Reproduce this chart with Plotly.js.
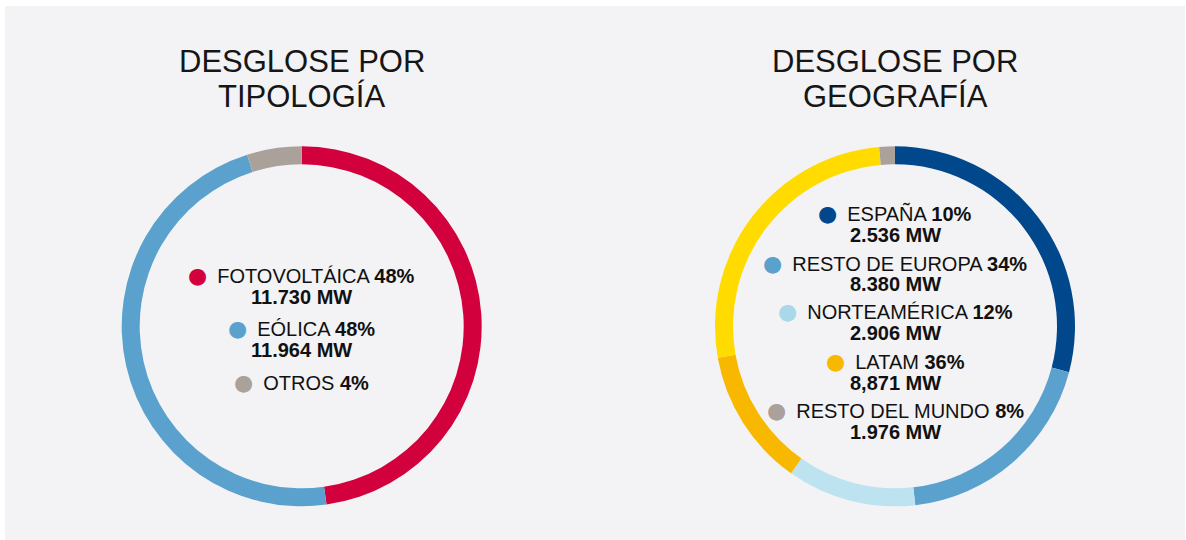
<!DOCTYPE html>
<html>
<head>
<meta charset="utf-8">
<script src="https://cdn.plot.ly/plotly-3.0.1.min.js"></script>
<style>html,body{margin:0;padding:0;background:#fff;}#chart{width:1186px;height:540px;}</style>
</head>
<body>
<div id="chart"></div>
<script>
// ---- Data ----
const tipologiaLabels = ['FOTOVOLTÁICA', 'EÓLICA', 'OTROS'];
const tipologiaPct = [48, 48, 4];
const tipologiaMW = ['11.730 MW', '11.964 MW', ''];
const tipologiaArc = [47.8, 47.3, 4.9];           // share of the ring as drawn
const tipologiaColors = ['#d2003c', '#5aa2cd', '#aba19b'];

const geoLabels = ['ESPAÑA', 'RESTO DE EUROPA', 'NORTEAMÉRICA', 'LATAM', 'RESTO DEL MUNDO'];
const geoPct = [10, 34, 12, 36, 8];
const geoMW = ['2.536 MW', '8.380 MW', '2.906 MW', '8,871 MW', '1.976 MW'];
const geoDotColors = ['#00478c', '#5aa2cd', '#a9d8ea', '#f8b800', '#aba19b'];

const geoRingLabels = ['ESPAÑA', 'RESTO DE EUROPA', 'NORTEAMÉRICA', 'LATAM', 'LATAM (2)', 'RESTO DEL MUNDO'];
const geoRingArc = [29.1, 19.1, 11.6, 12.4, 26.4, 1.4];   // share of the ring as drawn
const geoRingColors = ['#00478c', '#5aa2cd', '#bde3f1', '#f8b800', '#ffdb00', '#aba19b'];

const titles = [['DESGLOSE POR', 'TIPOLOGÍA'], ['DESGLOSE POR', 'GEOGRAFÍA']];

// ---- Layout helpers ----
const W = 1186, H = 540;
const px = x => x / W;
const py = y => 1 - y / H;
const FONT = 'Liberation Sans, Arial, Helvetica, sans-serif';

function donut(labels, values, colors, cx, cy, r) {
  return {
    type: 'pie', labels: labels, values: values, sort: false,
    direction: 'clockwise', rotation: 0, hole: 0.9,
    marker: {colors: colors, line: {width: 0}},
    textinfo: 'none', hoverinfo: 'label+percent', showlegend: false,
    domain: {x: [px(cx - r), px(cx + r)], y: [py(cy + r), py(cy - r)]}
  };
}

const data = [
  donut(tipologiaLabels, tipologiaArc, tipologiaColors, 301.7, 326.3, 180),
  donut(geoRingLabels, geoRingArc, geoRingColors, 895, 326.3, 180)
];

const annotations = [];
function ann(text, x, y, size, color) {
  annotations.push({
    text: text, x: px(x), y: py(y), xref: 'paper', yref: 'paper',
    xanchor: 'center', yanchor: 'middle', showarrow: false,
    font: {family: FONT, size: size, color: color || '#111111'}
  });
}
// titles
[301.7, 895].forEach((cx, i) => {
  ann(titles[i][0], cx, 61.5, 31, '#161616');
  ann(titles[i][1], cx, 96, 31, '#161616');
});
function dot(c) {
  return '<span style="color:' + c + ';font-family:DejaVu Sans;font-size:22px">●</span>\u2002';
}
// tipologia labels
const tipY = [275, 328.7, 382];
tipologiaLabels.forEach((l, i) => {
  ann(dot(tipologiaColors[i]) + l + ' <b>' + tipologiaPct[i] + '%</b>', 301.7, tipY[i], 20);
  if (tipologiaMW[i]) ann('<b>' + tipologiaMW[i] + '</b>', 301.7, tipY[i] + 21.6, 20);
});
// geografia labels
const geoY = [213.7, 263, 312, 361.3, 410.3];
geoLabels.forEach((l, i) => {
  ann(dot(geoDotColors[i]) + l + ' <b>' + geoPct[i] + '%</b>', 895, geoY[i], 20);
  ann('<b>' + geoMW[i] + '</b>', 895, geoY[i] + 21.3, 20);
});

const layout = {
  width: W, height: H,
  margin: {l: 0, r: 0, t: 0, b: 0},
  paper_bgcolor: '#ffffff',
  showlegend: false,
  shapes: [{type: 'rect', xref: 'paper', yref: 'paper', x0: px(5), x1: px(1185), y0: 0, y1: py(6),
            fillcolor: '#f3f3f5', line: {width: 0}, layer: 'below'}],
  annotations: annotations
};

Plotly.newPlot('chart', data, layout, {displayModeBar: false, staticPlot: true});
</script>
</body>
</html>
